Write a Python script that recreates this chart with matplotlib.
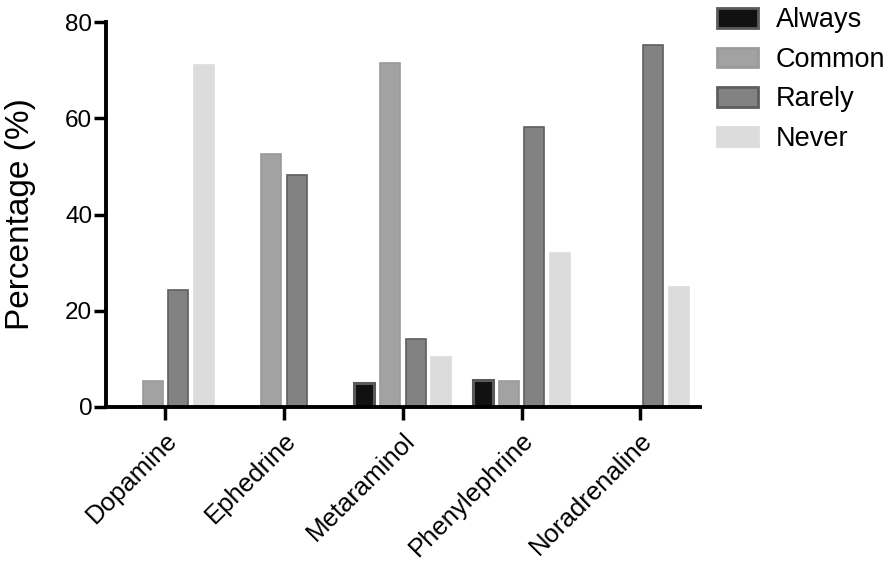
import numpy as np
import matplotlib.pyplot as plt
from matplotlib.patches import Patch

plt.rcParams["font.family"] = ["Liberation Sans", "DejaVu Sans"]

drugs = ["Dopamine", "Ephedrine", "Metaraminol", "Phenylephrine", "Noradrenaline"]
always = [0, 0, 5.0, 5.5, 0]
common = [5.3, 52.5, 71.4, 5.3, 0]
rarely = [24.3, 48.2, 14.2, 58.2, 75.3]
never = [71.0, 0, 10.3, 32.0, 25.0]

series = [
    ("Always", always, "#111111", "#5a5a5a"),
    ("Common", common, "#a2a2a2", "#9a9a9a"),
    ("Rarely", rarely, "#828282", "#5e5e5e"),
    ("Never", never, "#dcdcdc", "#dcdcdc"),
]

fig = plt.figure(figsize=(8.94, 5.66), dpi=100)
ax = fig.add_axes([0.1186, 0.281, 0.664, 0.68])

x = np.arange(len(drugs))
step = 0.216
width = 0.168
for i, (name, vals, fc, ec) in enumerate(series):
    ax.bar(x + (i - 1.5) * step, vals, width=width, color=fc,
           edgecolor=ec, linewidth=2.2 if name == "Always" else 1.2,
           label=name, zorder=2)

ax.set_xlim(-0.5, 4.5)
ax.set_ylim(0, 80)
ax.set_yticks([0, 20, 40, 60, 80])
ax.set_xticks(x)
ax.set_xticklabels(drugs, rotation=45, ha="right", rotation_mode="anchor",
                   fontsize=18.5)
ax.tick_params(axis="y", labelsize=17.5, width=2.5, length=9, pad=1)
ax.tick_params(axis="x", width=2.5, length=9, pad=6)
ax.set_ylabel("Percentage (%)", fontsize=24, labelpad=21)

for s in ["top", "right"]:
    ax.spines[s].set_visible(False)
for s in ["left", "bottom"]:
    ax.spines[s].set_linewidth(2.8)

handles = [Patch(facecolor=fc, edgecolor=ec, linewidth=2.0, label=name)
           for name, vals, fc, ec in series]
fig.legend(handles=handles, loc="upper left", bbox_to_anchor=(0.775, 1.03),
           frameon=False, fontsize=19.5, handlelength=1.5, handleheight=0.75,
           labelspacing=0.5, handletextpad=0.65)

fig.savefig("out.png", dpi=100)
